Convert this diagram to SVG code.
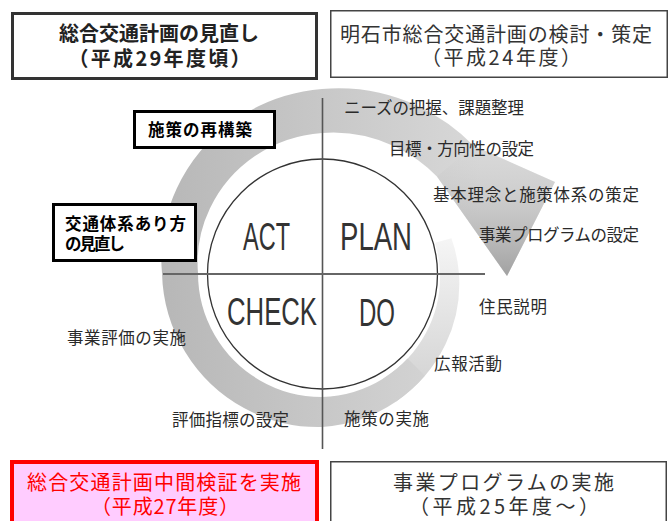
<svg xmlns="http://www.w3.org/2000/svg" width="672" height="521" viewBox="0 0 672 521">
<style>
.jp{font-family:"Noto Sans CJK JP","Noto Sans CJK SC",sans-serif}
.box{fill:#fff;stroke:#333;stroke-width:3}
.thin{fill:#fff;stroke:#444;stroke-width:1.5}
.lbl{fill:#fff;stroke:#000;stroke-width:3}
.t20{font-size:20px;fill:#222;text-anchor:middle}
.t21{font-size:20px;fill:#333;text-anchor:middle}
.red{font-size:20px;fill:#f00;text-anchor:middle}
.s{font-size:16.5px;fill:#2a2a2a}
.b{font-size:16.5px;font-weight:bold;fill:#000}
.pd{font-family:"Liberation Sans",Arial,sans-serif;font-size:38px;fill:#333}
</style>
<defs>
<linearGradient id="gMain" gradientUnits="userSpaceOnUse" x1="150" y1="250" x2="480" y2="250">
<stop offset="0" stop-color="#b6b6b6"/><stop offset="1" stop-color="#d8d8d8"/>
</linearGradient>
<linearGradient id="gTail" gradientUnits="userSpaceOnUse" x1="0" y1="235" x2="0" y2="380">
<stop offset="0" stop-color="#f6f6f6"/><stop offset="1" stop-color="#d5d5d5"/>
</linearGradient>
<linearGradient id="gHead" gradientUnits="userSpaceOnUse" x1="0" y1="150" x2="0" y2="272">
<stop offset="0" stop-color="#c8c8c8" stop-opacity="0"/><stop offset="1" stop-color="#a4a4a4" stop-opacity="1"/>
</linearGradient>
<filter id="soft" x="-5%" y="-5%" width="110%" height="110%"><feGaussianBlur stdDeviation="0.7"/></filter>
</defs>

<g id="connectors" filter="url(#soft)">
<path fill="url(#gTail)" d="M451.4 238.3 A136 136 0 0 1 458.9 273 A140 140 0 0 1 445.5 344.3 A146 146 0 0 1 396.2 401.4 L383 378.7 A121 121 0 0 0 425.9 333 A119 119 0 0 0 440 273 A117 117 0 0 0 435 242.7 Z"/>
<path fill="url(#gMain)" d="M424.8 375.8 A150 150 0 0 1 396.2 401.4 A151 151 0 0 1 322 427 A155 155 0 0 1 244 408.1 A157 157 0 0 1 185.2 352 A159 159 0 0 1 162 273 A164 164 0 0 1 176.5 189 A172 172 0 0 1 234 120.6 A180 180 0 0 1 322 89 A188 188 0 0 1 418.3 106.2 A195 195 0 0 1 473.7 145.7 L555 182 L507 276 L436.9 176.6 A148 148 0 0 0 395 146.6 A143 143 0 0 0 322 133 A137 137 0 0 0 254.6 156.3 A132 132 0 0 0 210 208.3 A126 126 0 0 0 198 273 A124 124 0 0 0 214.6 335 A124 124 0 0 0 260 380.4 A124 124 0 0 0 322 397 A123 123 0 0 0 383 378.7 A121 121 0 0 0 407.6 358.6 Z"/>
<path fill="url(#gHead)" d="M436.9 176.6 L473.7 145.7 L555 182 L507 276 Z"/>
</g>

<g id="pdca">
<circle cx="322.5" cy="274" r="115" fill="none" stroke="#333" stroke-width="1.3"/>
<line x1="322.5" y1="98" x2="322.5" y2="449" stroke="#555" stroke-width="1.6"/>
<line x1="163" y1="274" x2="485" y2="274" stroke="#666" stroke-width="2"/>
<text class="pd" x="243" y="250" textLength="47" lengthAdjust="spacingAndGlyphs">ACT</text>
<text class="pd" x="340" y="250" textLength="72" lengthAdjust="spacingAndGlyphs">PLAN</text>
<text class="pd" x="227" y="325" textLength="90" lengthAdjust="spacingAndGlyphs">CHECK</text>
<text class="pd" x="359" y="326" textLength="36" lengthAdjust="spacingAndGlyphs">DO</text>
</g>

<g id="steps" class="jp">
<text class="s" x="344" y="113.8" textLength="180">ニーズの把握、課題整理</text>
<text class="s" x="389" y="154.8" textLength="145">目標・方向性の設定</text>
<text class="s" x="433" y="201.3" textLength="206">基本理念と施策体系の策定</text>
<text class="s" x="479" y="241.3" textLength="160">事業プログラムの設定</text>
<text class="s" x="479" y="312.8" textLength="68">住民説明</text>
<text class="s" x="434" y="369.8" textLength="68">広報活動</text>
<text class="s" x="344" y="425.3" textLength="85">施策の実施</text>
<text class="s" x="67" y="343.8" textLength="119">事業評価の実施</text>
<text class="s" x="172" y="425.8" textLength="117">評価指標の設定</text>
</g>

<g id="node-saikouchiku" class="jp">
<rect class="lbl" x="134.5" y="111.5" width="140" height="36"/>
<text class="b" x="148" y="135.5" textLength="104">施策の再構築</text>
</g>

<g id="node-minaoshi" class="jp">
<rect class="lbl" x="53.5" y="204.5" width="142" height="56"/>
<text class="b" x="65" y="229.5" textLength="121">交通体系あり方</text>
<text class="b" x="65" y="249.5" textLength="60">の見直し</text>
</g>

<g id="node-top-left" class="jp">
<rect class="box" x="12.5" y="13.5" width="304" height="65"/>
<text class="t20" x="159" y="40.5" font-weight="bold">総合交通計画の見直し</text>
<text class="t20" x="159.5" y="65.5" font-weight="bold" textLength="182">（平成29年度頃）</text>
</g>

<g id="node-top-right" class="jp">
<rect class="thin" x="330.75" y="10.75" width="336.5" height="66.5"/>
<text class="t21" x="496" y="42" textLength="312">明石市総合交通計画の検討・策定</text>
<text class="t21" x="501" y="64.5" textLength="160">（平成24年度）</text>
</g>

<g id="node-bottom-left" class="jp">
<rect x="12" y="462" width="305" height="80" fill="#ffccff" stroke="#f00" stroke-width="4"/>
<text class="red" x="164" y="489.5" textLength="274">総合交通計画中間検証を実施</text>
<text class="red" x="165" y="513.5" textLength="148">（平成27年度）</text>
</g>

<g id="node-bottom-right" class="jp">
<rect class="thin" x="330.75" y="461.75" width="335.5" height="80"/>
<text class="t21" x="503.5" y="489.5" textLength="221">事業プログラムの実施</text>
<text class="t21" x="504" y="513.5" textLength="190">（平成25年度～）</text>
</g>
</svg>
